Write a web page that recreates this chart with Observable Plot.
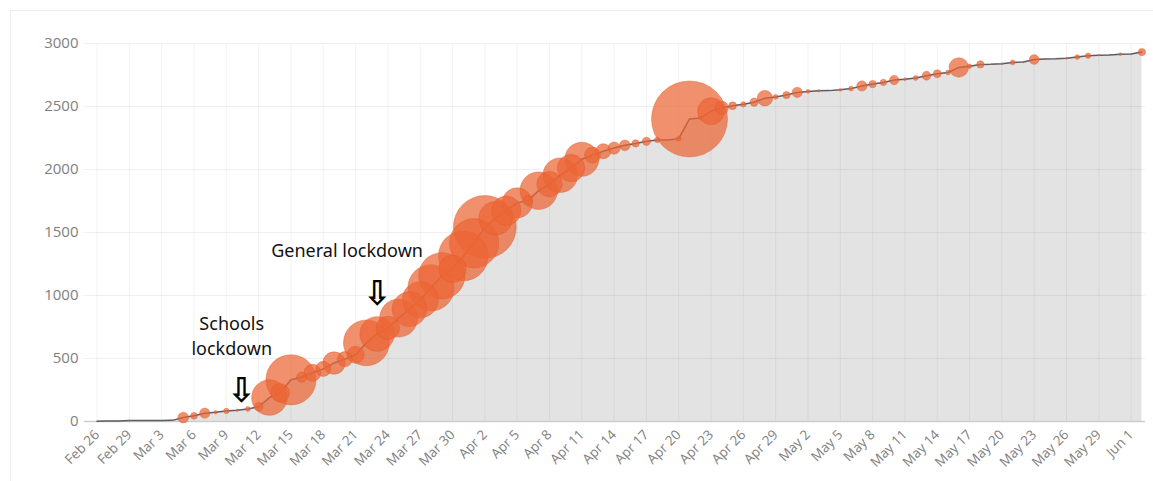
<!DOCTYPE html>
<html>
<head>
<meta charset="utf-8">
<script src="https://cdn.jsdelivr.net/npm/d3@7"></script>
<script src="https://cdn.jsdelivr.net/npm/@observablehq/plot@0.6"></script>
<style>
  html, body { margin: 0; padding: 0; background: #fff; }
  #wrap { position: relative; width: 1153px; height: 481px; overflow: hidden; }
  #frame { position: absolute; left: 10px; top: 10px; right: -2px; bottom: -2px;
           border-left: 1px solid #ececec; border-top: 1px solid #ececec; }
  #chart { position: absolute; left: 0; top: 0; }
</style>
</head>
<body>
<div id="wrap"><div id="frame"></div><div id="chart"></div></div>
<script>
// ---- data (cumulative confirmed cases, one value per day from the first date) ----
const firstDate = "2020-02-26";
const cumulativeCases = [
  1, 3, 4, 7,                                   // Feb 26 - Feb 29
  7, 7, 7, 9, 31, 45, 66, 73, 84, 89,           // Mar 1 - Mar 10
  99, 117, 190, 228, 331, 352, 387, 418, 464, 495, // Mar 11 - Mar 20
  530, 624, 695, 743, 821, 892, 966, 1061, 1156, 1212, 1314, // Mar 21 - Mar 31
  1415, 1544, 1613, 1673, 1735, 1755, 1832, 1884, 1955, 2011, // Apr 1 - Apr 10
  2081, 2114, 2145, 2170, 2192, 2207, 2224, 2235, 2235, 2245, // Apr 11 - Apr 20
  2401, 2408, 2463, 2490, 2506, 2517, 2534, 2566, 2576, 2591, // Apr 21 - Apr 30
  2612, 2620, 2625, 2626, 2632, 2642, 2663, 2678, 2691, 2710, // May 1 - May 10
  2716, 2726, 2744, 2760, 2770, 2810, 2819, 2834, 2836, 2840, // May 11 - May 20
  2850, 2853, 2873, 2876, 2878, 2882, 2892, 2903, 2906, 2909, 2915, // May 21 - May 31
  2917, 2932                                    // Jun 1 - Jun 2
];
const tickLabels = ["Feb 26","Feb 29","Mar 3","Mar 6","Mar 9","Mar 12","Mar 15","Mar 18","Mar 21",
  "Mar 24","Mar 27","Mar 30","Apr 2","Apr 5","Apr 8","Apr 11","Apr 14","Apr 17","Apr 20","Apr 23",
  "Apr 26","Apr 29","May 2","May 5","May 8","May 11","May 14","May 17","May 20","May 23","May 26",
  "May 29","Jun 1"];
const yTicks = [0, 500, 1000, 1500, 2000, 2500, 3000];
const noteTexts = ["Schools\nlockdown", "General lockdown"];
const noteDates = ["2020-03-09T12:00Z", "2020-03-20T05:00Z"];
const noteValues = [690, 1372];
const arrowDates = ["2020-03-10T10:00Z", "2020-03-23T00:00Z"];
const arrowValues = [245, 1010];

// ---- build tables ----
const start = new Date(firstDate + "T00:00Z");
const data = cumulativeCases.map((v, i) => ({
  date: d3.utcDay.offset(start, i),
  cum: v,
  added: i === 0 ? v : v - cumulativeCases[i - 1]
}));
const parseTick = d3.utcParse("%b %d %Y");
const tickDates = tickLabels.map(s => parseTick(s + " 2020"));
const lastDate = data[data.length - 1].date;
const notes = noteTexts.map((t, i) => ({text: t, date: new Date(noteDates[i]), value: noteValues[i]}));
const arrows = arrowDates.map((d, i) => ({date: new Date(d), value: arrowValues[i]}));

const chart = Plot.plot({
  width: 1153,
  height: 481,
  marginTop: 43,
  marginBottom: 60,
  marginLeft: 84,
  marginRight: 8,
  style: {fontFamily: "'Open Sans', sans-serif", fontSize: "13.5px", color: "#808080", background: "transparent"},
  x: {
    type: "utc",
    domain: [d3.utcHour.offset(start, -28), d3.utcHour.offset(lastDate, 8)],
    ticks: tickDates,
    tickFormat: d3.utcFormat("%b %-d"),
    tickRotate: -45,
    tickSize: 0,
    tickPadding: 11,
    label: null
  },
  y: {
    domain: [0, 3000],
    ticks: yTicks,
    tickFormat: d3.format("d"),
    tickSize: 0,
    tickPadding: 6,
    label: null
  },
  r: {type: "linear", domain: [0, 156], range: [0, 38]},
  marks: [
    Plot.areaY(data, {x: "date", y: "cum", fill: "#e3e3e3"}),
    Plot.ruleX(tickDates, {stroke: "#000", strokeOpacity: 0.05, strokeWidth: 1}),
    Plot.ruleY(yTicks.filter(d => d > 0), {stroke: "#000", strokeOpacity: 0.06, strokeWidth: 1}),
    Plot.ruleY([0], {stroke: "#cdcdcd", strokeWidth: 1.5}),
    Plot.lineY(data, {x: "date", y: "cum", stroke: "#5a5d68", strokeWidth: 1.5}),
    Plot.dot(data.filter(d => d.added > 0), {
      x: "date", y: "cum", r: "added",
      fill: "#ec6535", fillOpacity: 0.72,
      stroke: "#e0582a", strokeOpacity: 0.4, strokeWidth: 1
    }),
    Plot.text(notes, {
      x: "date", y: "value", text: "text",
      fill: "#111", fontSize: 18, fontFamily: "'Noto Sans', sans-serif",
      lineHeight: 1.4, textAnchor: "middle"
    }),
    Plot.text(arrows, {
      x: "date", y: "value", text: () => "\u21E9",
      fill: "#000", fontSize: 34, fontFamily: "'DejaVu Sans', sans-serif", fontWeight: "bold"
    })
  ]
});
// larger y-axis labels, as in the reference
chart.querySelectorAll('g[aria-label^="y-axis"] text').forEach(t => t.setAttribute("font-size", "15"));
document.getElementById("chart").appendChild(chart);
</script>
</body>
</html>
